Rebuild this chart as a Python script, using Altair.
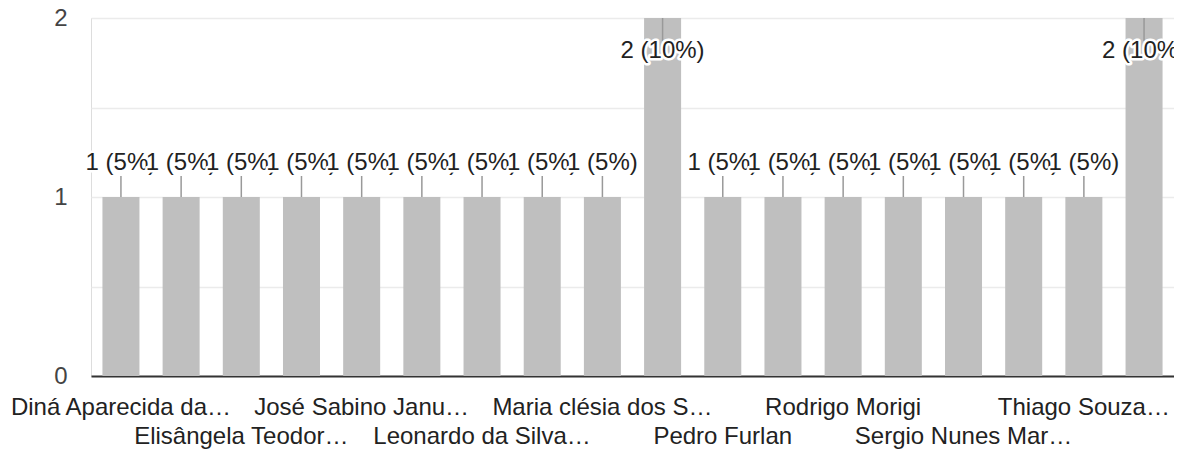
import altair as alt
import pandas as pd

# ---- data ----
names = [
    "Diná Aparecida da…", "Edson Ribeiro", "Elisângela Teodor…", "Fernanda Alves",
    "José Sabino Janu…", "Juliana Costa", "Leonardo da Silva…", "Luciana Martins",
    "Maria clésia dos S…", "Mariana Oliveira", "Pedro Furlan", "Renata Souza",
    "Rodrigo Morigi", "Rosana Lima", "Sergio Nunes Mar…", "Silvia Pereira",
    "Thiago Souza…", "Vanessa Rocha",
]
counts = [1, 1, 1, 1, 1, 1, 1, 1, 1, 2, 1, 1, 1, 1, 1, 1, 1, 2]
y_ticks = [0, 0.5, 1, 1.5, 2]

FONT = "Liberation Sans"
FS = 24
maxc = max(counts)
n = len(names)

df = pd.DataFrame({"name": names, "count": counts, "idx": list(range(n))})

base = alt.Chart(df).transform_joinaggregate(total="sum(count)").transform_calculate(
    label="datum.count + ' (' + format(datum.count / datum.total, '.0%') + ')'"
)

label_expr = (
    f"(round(datum.index*{n-1}) % 4 == 0) ? datum.label : "
    f"((round(datum.index*{n-1}) % 4 == 2) ? ['', datum.label] : '')"
)

x = alt.X(
    "name:N", sort=names,
    scale=alt.Scale(paddingInner=0.385, paddingOuter=0.19),
    axis=alt.Axis(
        title=None, labelAngle=0, labelOverlap=False, ticks=False, tickSize=0,
        labelPadding=19, labelLimit=0, labelFontSize=FS, labelFont=FONT,
        labelColor="#222222", labelLineHeight=29, labelExpr=label_expr,
        domainColor="#333333", domainWidth=2, grid=False,
    ),
)
y = alt.Y(
    "count:Q",
    scale=alt.Scale(domain=[0, maxc], nice=False),
    axis=alt.Axis(
        title=None, values=y_ticks,
        labelExpr="datum.value % 1 == 0 ? format(datum.value, 'd') : ''",
        domain=False, ticks=False, labelPadding=24,
        gridColor="#ebebeb", gridWidth=1.5,
        labelFontSize=FS, labelFont=FONT, labelColor="#444444",
    ),
)

bars = base.mark_bar(color="#bfbfbf").encode(x=x, y=y)

rule_above = base.transform_filter(f"datum.count < {maxc}").mark_rule(
    color="#999999", strokeWidth=1.5, y2Offset=-21
).encode(x=x, y=y, y2=alt.Y2("count:Q"))
rule_inside = base.transform_filter(f"datum.count >= {maxc}").mark_rule(
    color="#999999", strokeWidth=1.5, y2Offset=23
).encode(x=x, y=y, y2=alt.Y2("count:Q"))

layers = [bars, rule_above, rule_inside]
for i in range(n):
    dy = 40 if counts[i] >= maxc else -27
    sub = base.transform_filter(f"datum.idx == {i}")
    halo = sub.mark_text(
        baseline="alphabetic", dy=dy, font=FONT, fontSize=FS,
        color="white", stroke="white", strokeWidth=5, strokeJoin="round",
    ).encode(x=x, y=y, text="label:N")
    txt = sub.mark_text(
        baseline="alphabetic", dy=dy, font=FONT, fontSize=FS, color="#222222",
    ).encode(x=x, y=y, text="label:N")
    layers += [halo, txt]

chart = alt.layer(*layers).properties(
    width=1083, height=358,
    autosize=alt.AutoSizeParams(type="none"),
    padding={"left": 83, "top": 10, "right": 0, "bottom": 76},
).configure_view(stroke="#ebebeb", strokeWidth=1.5).configure(font=FONT)

chart.save("out.html", embed_options={"renderer": "svg", "actions": False})
